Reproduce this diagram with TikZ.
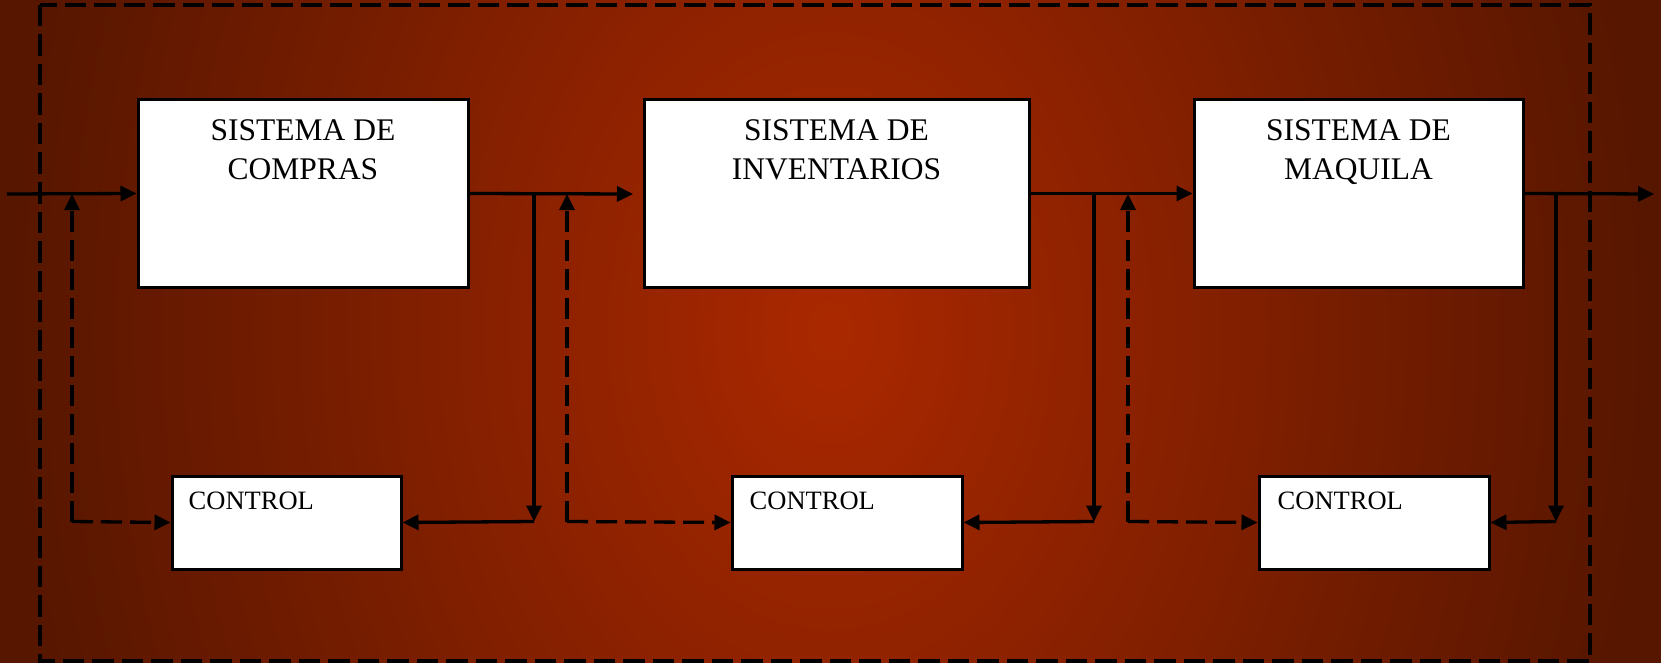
\documentclass[tikz,border=0pt]{standalone}
\usepackage{fontspec}
\setmainfont{Liberation Serif}
\usetikzlibrary{arrows.meta,calc}
\definecolor{bgin}{RGB}{170,40,0}
\definecolor{bgout}{RGB}{86,22,0}
\begin{document}
\begin{tikzpicture}[x=1pt,y=-1pt,
  sysbox/.style={draw=black, fill=white, line width=3pt, inner sep=0pt, minimum height=187pt},
  ctlbox/.style={draw=black, fill=white, line width=3pt, inner sep=0pt, minimum height=93pt, minimum width=230pt},
  systext/.style={font=\fontsize{31.5}{38.5}\selectfont, align=center, anchor=north, inner sep=0pt},
  ctltext/.style={font=\fontsize{26.5}{30}\selectfont, anchor=north west, inner sep=0pt},
  flow/.style={draw=black, line width=3.3pt, -{Triangle[length=16pt,width=15pt]}},
  fb/.style={flow, dash pattern=on 21pt off 8pt},
  frame/.style={draw=black, line width=3.2pt, dash pattern=on 21.5pt off 8pt}]
\useasboundingbox (0,0) rectangle (1661,663);
% background
\fill[bgout] (0,0) rectangle (1661,663);
\begin{scope}
  \clip (0,0) rectangle (1661,663);
  \shade[inner color=bgin, outer color=bgout] (830,331) ellipse [x radius=830pt, y radius=1113pt];
\end{scope}
% outer dashed frame
\draw[frame] (40,5) rectangle (1590,661);
% system boxes
\node[sysbox, minimum width=330pt] (s1) at (303,193.5) {};
\node[sysbox, minimum width=385pt] (s2) at (836.5,193.5) {};
\node[sysbox, minimum width=329pt] (s3) at (1358.5,193.5) {};
\node[systext] (t1) at ($(s1.north)+(0,21)$) {SISTEMA DE\\COMPRAS};
\node[systext] (t2) at ($(s2.north)+(0,21)$) {SISTEMA DE\\INVENTARIOS};
\node[systext] (t3) at ($(s3.north)+(0,21)$) {SISTEMA DE\\MAQUILA};
% control boxes
\node[ctlbox, minimum width=229pt] (c1) at (286.5,522.5) {};
\node[ctlbox] (c2) at (847,522.5) {};
\node[ctlbox] (c3) at (1374,522.5) {};
\node[ctltext] (u1) at ($(c1.north west)+(18,17.5)$) {CONTROL};
\node[ctltext] (u2) at ($(c2.north west)+(19,17.5)$) {CONTROL};
\node[ctltext] (u3) at ($(c3.north west)+(20,17.5)$) {CONTROL};
% coordinates
\coordinate (in) at (7,194);
\coordinate (a2) at (633,194);
\coordinate (out) at (1654,194);
\coordinate (j1) at (534,194);
\coordinate (k1) at (534,521.5);
\coordinate (j2) at (1094,194);
\coordinate (k2) at (1094,521.5);
\coordinate (j3) at (1556,194);
\coordinate (k3) at (1556,521.5);
\coordinate (f1t) at (72,194);
\coordinate (f1) at (72,521.5);
\coordinate (f2t) at (567,194);
\coordinate (f2) at (567,521.5);
\coordinate (f3t) at (1128,194);
\coordinate (f3) at (1128,521.5);
% main flow
\draw[flow] (in) -- (s1.west);
\draw[flow] (s1.east) -- (a2);
\draw[flow] (s2.east) -- (s3.west);
\draw[flow] (s3.east) -- (out);
% measurement branches
\draw[flow] (j1) -- (k1);
\draw[flow] (k1) -- (c1.east);
\draw[flow] (j2) -- (k2);
\draw[flow] (k2) -- (c2.east);
\draw[flow] (j3) -- (k3);
\draw[flow] (k3) -- (c3.east);
% dashed feedback
\draw[fb] (f1) -- (f1t);
\draw[fb] (f1) -- (c1.west);
\draw[fb] (f2) -- (f2t);
\draw[fb] (f2) -- (c2.west);
\draw[fb] (f3) -- (f3t);
\draw[fb] (f3) -- (c3.west);
\end{tikzpicture}
\end{document}
